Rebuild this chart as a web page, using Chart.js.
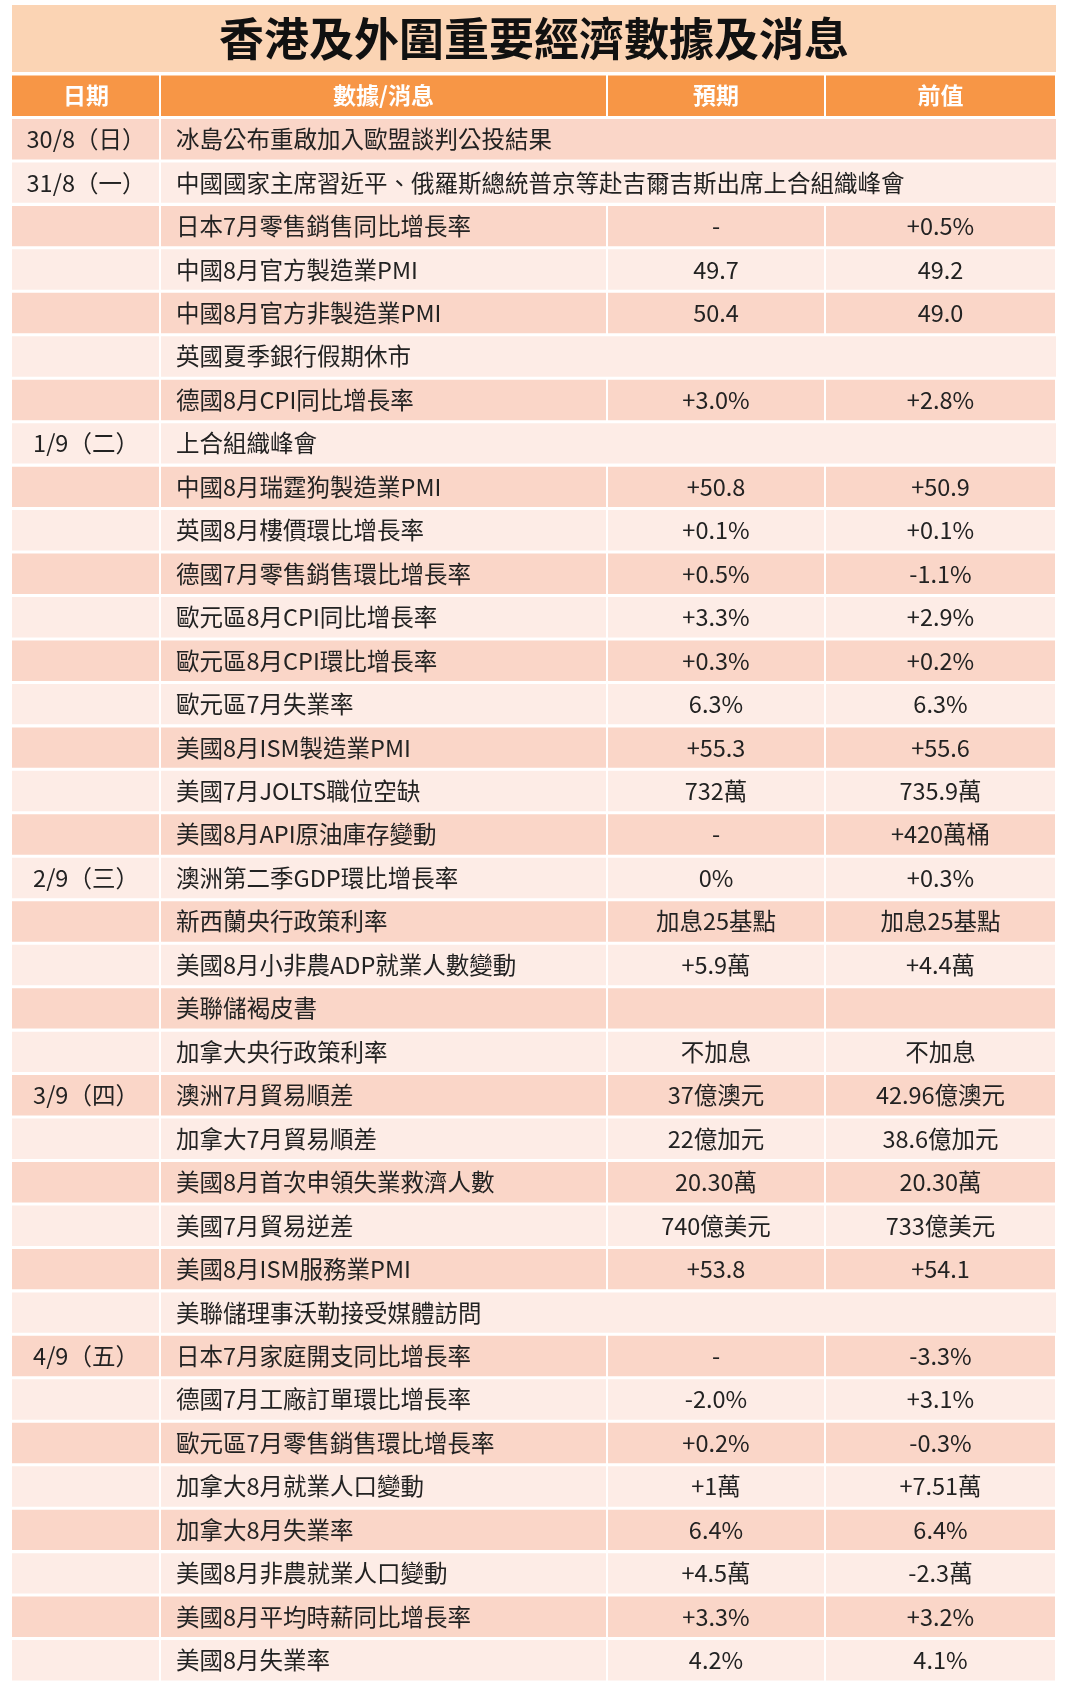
<!DOCTYPE html>
<html>
<head>
<meta charset="utf-8">
<script src="https://cdn.jsdelivr.net/npm/chart.js@4"></script>
<style>
body { margin: 0; background: #fff; }
#wrap { width: 1068px; height: 1688px; }
</style>
</head>
<body>
<div id="wrap"><canvas id="c"></canvas></div>
<script>
const title = '香港及外圍重要經濟數據及消息';
const headers = ['日期', '數據/消息', '預期', '前值'];
const dates = ['30/8（日）', '31/8（一）', '', '', '', '', '', '1/9（二）', '', '', '', '', '', '', '', '', '', '2/9（三）', '', '', '', '', '3/9（四）', '', '', '', '', '', '4/9（五）', '', '', '', '', '', '', ''];
const items = ['冰島公布重啟加入歐盟談判公投結果', '中國國家主席習近平、俄羅斯總統普京等赴吉爾吉斯出席上合組織峰會', '日本7月零售銷售同比增長率', '中國8月官方製造業PMI', '中國8月官方非製造業PMI', '英國夏季銀行假期休市', '德國8月CPI同比增長率', '上合組織峰會', '中國8月瑞霆狗製造業PMI', '英國8月樓價環比增長率', '德國7月零售銷售環比增長率', '歐元區8月CPI同比增長率', '歐元區8月CPI環比增長率', '歐元區7月失業率', '美國8月ISM製造業PMI', '美國7月JOLTS職位空缺', '美國8月API原油庫存變動', '澳洲第二季GDP環比增長率', '新西蘭央行政策利率', '美國8月小非農ADP就業人數變動', '美聯儲褐皮書', '加拿大央行政策利率', '澳洲7月貿易順差', '加拿大7月貿易順差', '美國8月首次申領失業救濟人數', '美國7月貿易逆差', '美國8月ISM服務業PMI', '美聯儲理事沃勒接受媒體訪問', '日本7月家庭開支同比增長率', '德國7月工廠訂單環比增長率', '歐元區7月零售銷售環比增長率', '加拿大8月就業人口變動', '加拿大8月失業率', '美國8月非農就業人口變動', '美國8月平均時薪同比增長率', '美國8月失業率'];
const forecasts = ['', '', '-', '49.7', '50.4', '', '+3.0%', '', '+50.8', '+0.1%', '+0.5%', '+3.3%', '+0.3%', '6.3%', '+55.3', '732萬', '-', '0%', '加息25基點', '+5.9萬', '', '不加息', '37億澳元', '22億加元', '20.30萬', '740億美元', '+53.8', '', '-', '-2.0%', '+0.2%', '+1萬', '6.4%', '+4.5萬', '+3.3%', '4.2%'];
const previous = ['', '', '+0.5%', '49.2', '49.0', '', '+2.8%', '', '+50.9', '+0.1%', '-1.1%', '+2.9%', '+0.2%', '6.3%', '+55.6', '735.9萬', '+420萬桶', '+0.3%', '加息25基點', '+4.4萬', '', '不加息', '42.96億澳元', '38.6億加元', '20.30萬', '733億美元', '+54.1', '', '-3.3%', '+3.1%', '-0.3%', '+7.51萬', '6.4%', '-2.3萬', '+3.2%', '4.1%'];
const mergedRows = [0, 1, 5, 7, 27];
const colEdges = [12, 160, 607, 825, 1056];

const labels = ['header'].concat(items.map((_, i) => 'r' + i));
const rowColor = i => i === 0 ? '#f79646' : (i % 2 === 1 ? '#fad6c8' : '#fdece6');
const colors = labels.map((_, i) => rowColor(i));

function colData(c) {
  return labels.map((_, i) => {
    const r = i - 1;
    if (r >= 0 && mergedRows.includes(r)) {
      if (c === 1) return [colEdges[1] + 1, colEdges[4]];
      if (c > 1) return null;
    }
    return [colEdges[c] + (c ? 1 : 0), colEdges[c + 1] - 1];
  });
}

const tablePlugin = {
  id: 'tableText',
  beforeDatasetsDraw(chart) {
    const ctx = chart.ctx;
    ctx.save();
    ctx.fillStyle = '#fbd4b4';
    ctx.fillRect(colEdges[0], 5, colEdges[4] - colEdges[0], 67);
    ctx.restore();
  },
  afterDatasetsDraw(chart) {
    const ctx = chart.ctx, x = chart.scales.x, y = chart.scales.y;
    ctx.save();
    ctx.textBaseline = 'middle';
    ctx.fillStyle = '#111';
    ctx.textAlign = 'center';
    ctx.font = 'bold 45px "Noto Sans CJK TC"';
    ctx.fillText(title, x.getPixelForValue((colEdges[0] + colEdges[4]) / 2), 39);
    ctx.fillStyle = '#fff';
    ctx.font = 'bold 23px "Noto Sans CJK TC"';
    headers.forEach((h, c) => {
      ctx.fillText(h, x.getPixelForValue((colEdges[c] + colEdges[c + 1]) / 2), y.getPixelForValue(0));
    });
    ctx.fillStyle = '#222';
    ctx.font = '23.5px "Noto Sans CJK TC"';
    items.forEach((it, r) => {
      const py = y.getPixelForValue(r + 1);
      ctx.textAlign = 'center';
      if (dates[r]) ctx.fillText(dates[r], x.getPixelForValue((colEdges[0] + colEdges[1]) / 2), py);
      ctx.fillText(forecasts[r], x.getPixelForValue((colEdges[2] + colEdges[3]) / 2), py);
      ctx.fillText(previous[r], x.getPixelForValue((colEdges[3] + colEdges[4]) / 2), py);
      ctx.textAlign = 'left';
      ctx.fillText(it, x.getPixelForValue(colEdges[1] + 16), py);
    });
    ctx.restore();
  }
};

new Chart(document.getElementById('c'), {
  type: 'bar',
  data: {
    labels: labels,
    datasets: [0, 1, 2, 3].map(c => ({
      data: colData(c),
      backgroundColor: colors,
      borderWidth: 0,
      grouped: false,
      barPercentage: 0.93,
      categoryPercentage: 1
    }))
  },
  options: {
    indexAxis: 'y',
    responsive: true,
    maintainAspectRatio: false,
    animation: false,
    layout: { padding: { top: 74, bottom: 6, left: 0, right: 0 } },
    plugins: { legend: { display: false }, tooltip: { enabled: false } },
    scales: {
      x: { type: 'linear', min: 0, max: 1068, display: false },
      y: { display: false }
    }
  },
  plugins: [tablePlugin]
});
</script>
</body>
</html>
